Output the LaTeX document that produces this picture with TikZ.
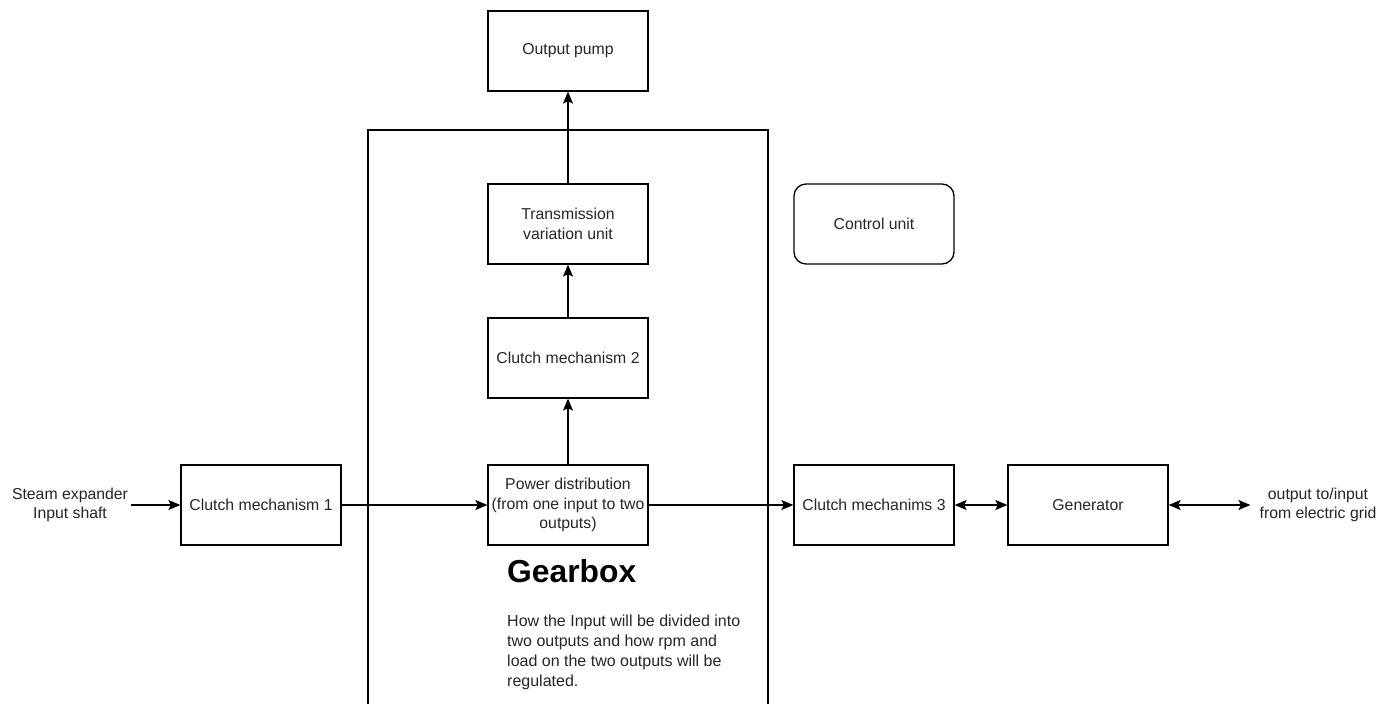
\documentclass[tikz,border=0pt]{standalone}
\usepackage{fontspec}
\setmainfont{Liberation Sans}
\usetikzlibrary{arrows.meta}
\definecolor{txt}{HTML}{262626}
\begin{document}
\begin{tikzpicture}[x=1pt,y=-1pt,
  box/.style={draw, line width=1.3pt, minimum width=160pt, minimum height=80pt,
    inner sep=2pt, align=center, font=\fontsize{15.8}{19.3}\selectfont, text=txt},
  rbox/.style={box, rounded corners=12pt},
  lbl/.style={align=center, inner sep=3pt, font=\fontsize{15.8}{19.3}\selectfont, text=txt},
  arr/.style={line width=1.3pt, -{Stealth[length=12pt,width=10pt,inset=2.5pt]}},
  darr/.style={line width=1.3pt, {Stealth[length=12pt,width=10pt,inset=2.5pt]}-{Stealth[length=12pt,width=10pt,inset=2.5pt]}},
  frame/.style={line width=1.3pt}
]
\useasboundingbox[fill=white] (0,0) rectangle (1384,704);
% gearbox container
\draw[frame] (368,704) -- (368,130) -- (768,130) -- (768,704);
% boxes
\node[box] (op)  at (568,51)  {Output pump};
\node[box] (tv)  at (568,224) {Transmission\\variation unit};
\node[box] (c2)  at (568,358) {Clutch mechanism 2};
\node[box] (pd)  at (568,505) {Power distribution\\(from one input to two\\outputs)};
\node[box] (c1)  at (261,505) {Clutch mechanism 1};
\node[box] (c3)  at (874,505) {Clutch mechanims 3};
\node[box] (gen) at (1088,505) {Generator};
\node[rbox] (cu) at (874,224) {Control unit};
% free labels
\node[lbl] (steam) at (70,505) {Steam expander\\Input shaft};
\node[lbl, inner xsep=9pt] (grid) at (1318,505) {output to/input\\from electric grid};
\node[anchor=base west, inner sep=0pt, font=\fontsize{31.8}{36}\selectfont\bfseries] (gbt) at (507,582) {Gearbox};
\node[anchor=north west, inner sep=0pt, align=left, text=txt, font=\fontsize{16}{20}\selectfont] (gbd) at (507,615)
  {How the Input will be divided into\\two outputs and how rpm and\\load on the two outputs will be\\regulated.};
% connectors
\draw[arr] (steam) -- (c1);
\draw[arr] (c1) -- (pd);
\draw[arr] (pd) -- (c3);
\draw[arr] (pd) -- (c2);
\draw[arr] (c2) -- (tv);
\draw[arr] (tv) -- (op);
\draw[darr] (c3) -- (gen);
\draw[darr] (gen) -- (grid);
\end{tikzpicture}
\end{document}
